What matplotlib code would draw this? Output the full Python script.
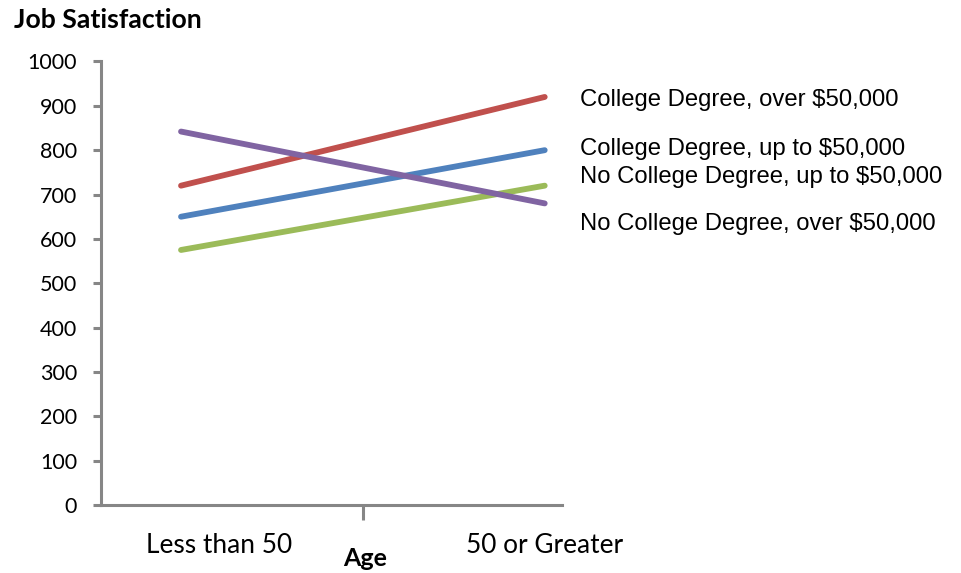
import matplotlib
matplotlib.use("Agg")
import matplotlib.pyplot as plt

# job satisfaction by age group, four education / income groups
age_groups = ["Less than 50", "50 or Greater"]
series_names = [
    "College Degree, over $50,000",
    "College Degree, up to $50,000",
    "No College Degree, up to $50,000",
    "No College Degree, over $50,000",
]
college_over = [720, 920]
college_upto = [650, 800]
nocollege_upto = [575, 720]
nocollege_over = [842, 680]

colors = ["#C0504D", "#4F81BD", "#9BBB59", "#8064A2"]
# baseline for each end label, nudged apart so they don't overlap
label_y = [900, 790, 726, 620]

axis_grey = "#868686"
tick_font = ["Lato", "DejaVu Sans"]
label_font = ["Liberation Sans", "DejaVu Sans"]

fig = plt.figure(figsize=(9.62, 5.73), dpi=100)
ax = fig.add_axes([0.105, 0.1187, 0.479, 0.774])

xs = [0, 1]
all_series = [college_over, college_upto, nocollege_upto, nocollege_over]
for vals, c in zip(all_series, colors):
    ax.plot(xs, vals, color=c, lw=4.2, solid_capstyle="round")

ax.set_xlim(-0.22, 1.047)
ax.set_ylim(0, 1000)
ax.set_yticks(range(0, 1001, 100))
ax.set_xticks([0.5])
ax.set_xticklabels([""])

for side in ["top", "right"]:
    ax.spines[side].set_visible(False)
for side in ["left", "bottom"]:
    ax.spines[side].set_color(axis_grey)
    ax.spines[side].set_linewidth(2.2)

ax.tick_params(axis="y", length=5.8, width=2.2, color=axis_grey, pad=11.5,
               labelsize=15.5, direction="out")
ax.tick_params(axis="x", length=11, width=2.2, color=axis_grey, direction="out")
for t in ax.get_yticklabels():
    t.set_family(tick_font)

# category names under the axis
cat_x = [0.104, 1.0]
for x, name in zip(cat_x, age_groups):
    ax.text(x, -48 / 443, name, transform=ax.get_xaxis_transform(),
            ha="center", va="baseline", fontsize=18.9, family=tick_font)

# names at the end of each line
for yv, name in zip(label_y, series_names):
    ax.text(1.096, yv, name, ha="left", va="baseline", fontsize=17.2,
            family=label_font, clip_on=False)

fig.text(14 / 962, 1 - 27.5 / 573, "Job Satisfaction", ha="left",
         va="baseline", fontsize=19.2, fontweight="bold", family=tick_font)
fig.text(365 / 962, 1 - 566 / 573, "Age", ha="center", va="baseline",
         fontsize=18, fontweight="bold", family=tick_font)

fig.savefig("out.png", dpi=100)
